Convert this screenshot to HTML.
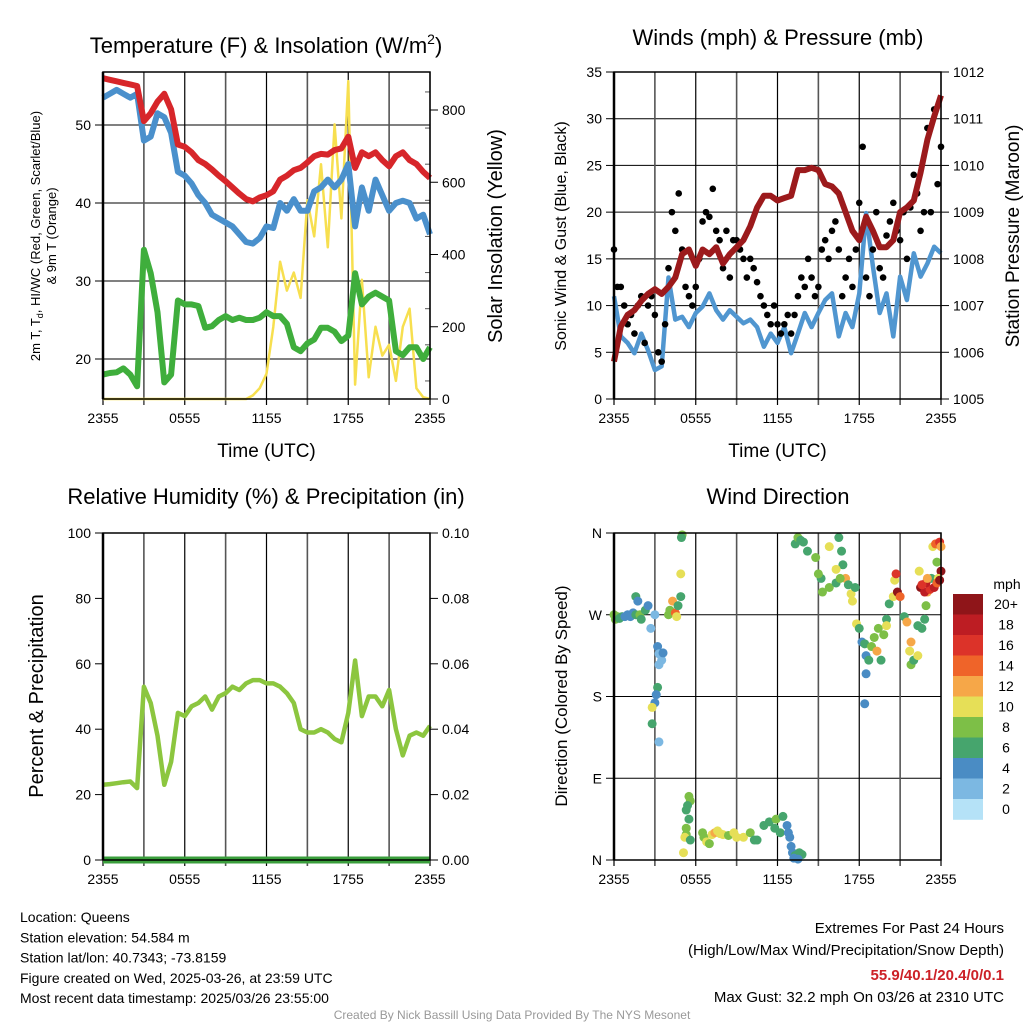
<!DOCTYPE html>
<html><head><meta charset="utf-8"><style>
body{margin:0;background:#fff;}
svg{display:block;font-family:"Liberation Sans",sans-serif;}
</style></head><body>
<svg id="s" width="1024" height="1024" viewBox="0 0 1024 1024"></svg>
<script>
// ---------- DATA (half-hourly, hours 0..24) ----------
const xTickLabels=["2355","0555","1155","1755","2355"];
const tempRed=[56,55.8,55.6,55.4,55.2,55,50.5,51.5,53,54,52,47.5,47.2,46.5,45.5,45,44.3,43.5,42.8,42,41.2,40.5,40.2,40.7,41,41.5,43,43.5,44.2,44.5,45.2,46,46.3,46.2,46.8,47,48.5,44.5,46.5,46,46.5,45.5,44.7,46,46.5,45.5,45,44,43.2];
const hiwcBlue=[53.5,54,54.5,54,53.5,54,48,48.5,51.5,51,49,44,43.5,42.5,41,40,38.5,38,37.5,37,36,35,34.8,35.5,37,36.8,40,39,40.5,39,39,41.5,42,43,42,43,45,37,42,39,43,41,39,40,40.3,40,38,38.5,36];
const dewGreen=[18,18.2,18.3,18.8,18,16.5,34,31,26,17,18,27.5,27,27,26.8,24,24.2,25,25.5,25,25.3,25,25,25.3,26,25.5,25.5,24.5,21.5,21,22,22.5,24,24,23.5,22.3,23,31,27,28,28.5,28,27.5,21,20.5,21.5,21.5,20,21.5];
const insolation=[0,0,0,0,0,0,0,0,0,0,0,0,0,0,0,0,0,0,0,0,0,0,10,30,70,200,380,300,350,280,550,450,650,420,760,500,880,40,330,60,200,120,150,50,200,250,30,5,0];
const windBlue=[11,6.7,6,4.9,7,5.2,3.1,3.5,13,8.5,8.8,7.7,9.2,9.9,11.3,9.5,8.5,9.5,8.8,8.1,8.5,7.7,5.6,7,6,7.7,4.9,7,9.2,7.7,9.2,10.6,11.3,6.7,9.2,7.7,11.3,19.9,14.2,9.2,11.3,6.7,13.1,10.6,15.6,13.1,14.5,16.3,15.6];
const pressure=[1005.8,1006.55,1006.8,1006.9,1007.1,1007.25,1007.35,1007.25,1007.4,1007.6,1008.1,1008.2,1007.85,1008.2,1008.1,1008.25,1007.9,1008.1,1008.25,1008.4,1008.7,1009.1,1009.35,1009.35,1009.25,1009.3,1009.35,1009.9,1009.9,1009.95,1009.9,1009.6,1009.55,1009.4,1009.0,1008.6,1008.4,1008.9,1008.6,1008.25,1008.25,1008.4,1009.0,1009.1,1009.25,1009.85,1010.55,1011.05,1011.5];
// gusts every 15 minutes
const gusts=[16,12,12,10,8,9,7,10,11,6,10,11,9,5,4,8,14,20,18,22,16,12,11,10,12,15,19,20,19.5,22.5,18,17,14,18,13,17,17,16,15,13,15,14,12.5,11,10,9,8,10,8,7,8,9,7,9,11,13,12,15,13,11,12,16,17,15,18,19,16,11,13,15,12,16,21,27,13,11,16,20,14,13,17.5,19,21,18,17,20,15,20.5,24,22,18,20,29,20,31,23,27];
const rh=[23,23.2,23.5,23.8,24,22,53,48,38,23,30,45,44,47,48,50,46,50,51,53,52,54,55,55,54,54,53,51,48,40,39,39,40,39,37,36,45,61,44,50,50,47,52,40,32,38,39,38,41];
const dirHours=[0,0.1,0.25,0.4,0.6,0.8,1,1.2,1.4,1.6,1.6,1.75,1.9,2,2.3,2.5,2.7,3.0,3.2,3.3,3.3,3.5,3.6,3.2,3.1,3.0,2.8,2.8,3.3,4.0,4.1,4.3,4.5,4.6,4.7,4.9,4.9,5.0,4.95,5.5,5.6,5.4,5.3,5.5,5.3,5.3,5.2,5.6,5.1,6.5,6.6,6.8,7.0,7.2,7.4,7.6,7.8,8.0,8.4,8.8,9.0,9.5,10,10.3,10.5,11.0,11.4,11.8,11.9,12.2,12.4,12.7,12.8,12.9,13.0,13.1,13.3,13.6,13.8,13.2,13.5,13.3,13.5,13.7,13.9,14.2,14.8,15.2,15.0,15.3,15.8,16.3,15.8,16.5,16.7,16.8,17.0,17.2,17.4,17.5,17.7,16.3,16.6,17.8,18.0,18.2,18.4,18.5,18.7,18.9,19.1,19.4,19.3,18.5,18.4,19.6,19.8,20.0,20.2,20.0,20.5,20.6,20.7,20.8,21.0,21.3,21.5,21.8,21.7,21.8,22.0,22.3,22.6,22.8,22.3,22.9,23.0,23.3,23.7,23.4,23.6,23.9,24.0,24.0,23.8,22.5,22.8,23.2,23.5,23.7,23.9,22.9,22.6,23.0,22.4];
const dirDegrees=[270,265,268,266,268,268,270,268,272,270,290,285,270,265,275,280,255,270,235,227,215,220,228,190,182,173,168,150,130,270,275,285,272,268,280,290,315,358,355,70,65,60,55,45,35,28,25,22,8,30,25,20,18,28,30,32,29,28,27,30,25,25,30,22,22,38,42,35,45,30,48,38,30,25,15,8,5,8,6,2,1,348,355,352,350,340,333,310,315,295,300,305,345,355,340,325,310,303,293,285,300,320,310,260,255,240,238,225,220,235,245,255,230,205,172,220,248,265,282,258,290,308,315,295,290,268,262,240,230,215,220,225,255,265,258,280,295,310,328,345,348,350,345,318,310,300,295,298,300,305,308,305,303,310,318];
const dirSpeeds=[9,8,8,6,6,4,4,4,4,6,6,4,8,6,6,4,2,2,4,2,2,2,4,6,4,4,10,6,2,8,8,12,14,10,6,6,10,8,6,8,8,6,6,6,8,8,10,6,10,8,8,10,8,10,12,10,10,10,8,10,10,10,8,6,6,6,6,6,8,6,6,4,4,4,4,4,6,6,6,4,4,6,8,6,6,6,8,6,8,8,8,6,10,6,6,6,12,6,10,10,6,10,8,10,6,4,6,4,6,8,8,8,12,4,4,6,8,6,6,10,10,10,16,20,14,6,12,12,10,8,6,10,6,6,6,8,12,6,8,10,14,16,12,20,10,20,18,16,18,14,20,18,16,12,10];
const speedBins=["0","2","4","6","8","10","12","14","16","18","20+"];
const binColors=["#b5e2f7","#7cb8e2","#4a8cc4","#46a56d","#7dbf47","#e6df57","#f6a748","#ef6429","#dc3329","#bd1d23","#8f1519"];

// ---------- helpers ----------
const NS="http://www.w3.org/2000/svg";
const svg=document.getElementById('s');
function el(tag,attrs,parent,text){const e=document.createElementNS(NS,tag);for(const k in attrs)e.setAttribute(k,attrs[k]);if(text!==undefined)e.textContent=text;(parent||svg).appendChild(e);return e;}
function grp(name,parent){const g=el('g',{},parent);return g;}
const halfHours=tempRed.map((_,i)=>i*0.5);
function makePanel(x0,y0,w,h){return {x0,y0,w,h,sx:t=>x0+t/24*w};}
function lin(d0,d1,p0,p1){return v=>p0+(v-d0)/(d1-d0)*(p1-p0);}
function pathFrom(xs,ys,sx,sy){return xs.map((x,i)=>(i?'L':'M')+sx(x).toFixed(1)+','+sy(ys[i]).toFixed(1)).join('');}
function xAxis(P,g,showTitle){
  for(let k=0;k<=8;k++){const x=P.sx(k*3);el('line',{x1:x,y1:P.y0,x2:x,y2:P.y0+P.h+6,stroke:k%2?'#555':'#000','stroke-width':k%2?1.6:1.2},g);}
  xTickLabels.forEach((l,i)=>{const t=el('text',{x:P.sx(i*6),y:P.y0+P.h+24,'font-size':14,'text-anchor':'middle'},g,l);});
  if(showTitle){const t=el('text',{x:P.x0+P.w/2,y:P.y0+P.h+58,'font-size':19,'text-anchor':'middle'},g,'Time (UTC)');}
}
function frame(P,g){el('rect',{x:P.x0,y:P.y0,width:P.w,height:P.h,fill:'none',stroke:'#000','stroke-width':1.5},g);el('line',{x1:P.x0,y1:P.y0,x2:P.x0,y2:P.y0+P.h,stroke:'#000','stroke-width':2.5},g);}
function yTicks(P,g,vals,sy,labels,side,grid){
  vals.forEach((v,i)=>{const y=sy(v);
    if(grid)el('line',{x1:P.x0,y1:y,x2:P.x0+P.w,y2:y,stroke:'#000','stroke-width':1},g);
    if(side==='l'){el('line',{x1:P.x0-8,y1:y,x2:P.x0,y2:y,stroke:'#000'},g);const t=el('text',{x:P.x0-12,y:y+5,'font-size':14,'text-anchor':'end'},g,labels[i]);}
    else{el('line',{x1:P.x0+P.w,y1:y,x2:P.x0+P.w+8,y2:y,stroke:'#000'},g);const t=el('text',{x:P.x0+P.w+12,y:y+5,'font-size':14},g,labels[i]);}
  });
}
function title(txt,x,y,name){const t=el('text',{x,y,'font-size':22,'text-anchor':'middle'},svg,txt);return t;}
function vlabel(txt,x,y,size,name){const t=el('text',{x,y,'font-size':size,'text-anchor':'middle',transform:`rotate(-90 ${x} ${y})`},svg,txt);return t;}

// ---------- Panel 1: temperature ----------
{const P=makePanel(103,72,327,327);const g=grp('temperature-panel');
 const sy=lin(20,50,359,125), sy2=lin(0,800,399,110);
 yTicks(P,g,[20,30,40,50],sy,["20","30","40","50"],'l',true);
 yTicks(P,g,[0,200,400,600,800],sy2,["0","200","400","600","800"],'r',false);
 for(let v=50;v<=900;v+=100){const y=sy2(v);el('line',{x1:P.x0+P.w-5,y1:y,x2:P.x0+P.w,y2:y,stroke:'#555'},g);}
 xAxis(P,g,true);
 const series=[[insolation,sy2,'#f7df4f',2.5,'insolation-line'],[dewGreen,sy,'#3fae3c',6,'dewpoint-line'],[hiwcBlue,sy,'#4a90cc',6,'heat-index-windchill-line'],[tempRed,sy,'#d7262a',6,'temperature-line']];
 series.forEach(s=>{const p=el('path',{d:pathFrom(halfHours,s[0],P.sx,s[1]),fill:'none',stroke:s[2],'stroke-width':s[3],'stroke-linejoin':'round'},g);});
 frame(P,g);
 const t=el('text',{x:266,y:53,'font-size':22,'text-anchor':'middle'},svg);
 t.innerHTML='Temperature (F) &amp; Insolation (W/m<tspan font-size="14" dy="-9">2</tspan><tspan dy="9">)</tspan>';
 const l=el('text',{x:40,y:236,'font-size':13,'text-anchor':'middle',transform:'rotate(-90 40 236)'},svg);
 l.innerHTML='2m T, T<tspan font-size="9" dy="3">d</tspan><tspan dy="-3">, HI/WC (Red, Green, Scarlet/Blue)</tspan>';
 vlabel('& 9m T (Orange)',56,236,13,'temperature-y-axis-subtitle');
 vlabel('Solar Insolation (Yellow)',502,236,20,'insolation-axis-title');
}
// ---------- Panel 2: winds ----------
{const P=makePanel(614,72,327,327);const g=grp('winds-panel');
 const sy=lin(0,35,399,72), sy2=lin(1005,1012,399,72);
 yTicks(P,g,[0,5,10,15,20,25,30,35],sy,["0","5","10","15","20","25","30","35"],'l',true);
 yTicks(P,g,[1005,1006,1007,1008,1009,1010,1011,1012],sy2,["1005","1006","1007","1008","1009","1010","1011","1012"],'r',false);
 xAxis(P,g,true);
 const wb=el('path',{d:pathFrom(halfHours,windBlue,P.sx,sy),fill:'none',stroke:'#5096d0','stroke-width':4.5,'stroke-linejoin':'round'},g);
 gusts.forEach((v,i)=>{const c=el('circle',{cx:P.sx(i*0.25),cy:sy(v),r:3.3,fill:'#000'},g);});
 const pr=el('path',{d:pathFrom(halfHours,pressure,P.sx,sy2),fill:'none',stroke:'#9c1a1c','stroke-width':6,'stroke-linejoin':'round'},g);
 frame(P,g);
 title('Winds (mph) & Pressure (mb)',778,45,'winds-title');
 vlabel('Sonic Wind & Gust (Blue, Black)',566,236,16,'wind-y-axis-title');
 vlabel('Station Pressure (Maroon)',1019,236,19,'pressure-axis-title');
}
// ---------- Panel 3: RH ----------
{const P=makePanel(103,533,327,327);const g=grp('humidity-panel');
 const sy=lin(0,100,860,533), sy2=lin(0,0.1,860,533);
 yTicks(P,g,[0,20,40,60,80,100],sy,["0","20","40","60","80","100"],'l',false);
 yTicks(P,g,[0,0.02,0.04,0.06,0.08,0.1],sy2,["0.00","0.02","0.04","0.06","0.08","0.10"],'r',false);
 xAxis(P,g,false);
 const p=el('path',{d:pathFrom(halfHours,rh,P.sx,sy),fill:'none',stroke:'#8cc63f','stroke-width':4.5,'stroke-linejoin':'round'},g);
 const pc=el('line',{x1:P.x0,y1:sy2(0),x2:P.x0+P.w,y2:sy2(0),stroke:'#3a9e3c','stroke-width':7},g);
 frame(P,g);
 title('Relative Humidity (%) & Precipitation (in)',266,504,'humidity-title');
 vlabel('Percent & Precipitation',43,696,20,'humidity-y-axis-title');
}
// ---------- Panel 4: wind direction ----------
{const P=makePanel(614,533,327,327);const g=grp('wind-direction-panel');
 const sy=lin(0,360,860,533);
 yTicks(P,g,[0,90,180,270,360],sy,["N","E","S","W","N"],'l',true);
 xAxis(P,g,false);
 dirHours.forEach((h,i)=>{const b=Math.min(10,Math.floor(dirSpeeds[i]/2));const c=el('circle',{cx:P.sx(h),cy:sy(dirDegrees[i]),r:4.5,fill:binColors[b]},g);});
 frame(P,g);
 title('Wind Direction',778,504,'wind-direction-title');
 vlabel('Direction (Colored By Speed)',567,696,17,'direction-y-axis-title');
 const lg=grp('speed-colorbar');
 const mt=el('text',{x:1007,y:589,'font-size':14,'text-anchor':'middle'},lg,'mph');
 for(let i=0;i<11;i++){const idx=10-i;const y=594+i*20.5;
  const r=el('rect',{x:953,y:y,width:30,height:20.8,fill:binColors[idx]},lg);
  const t=el('text',{x:1006,y:y+15,'font-size':14,'text-anchor':'middle'},lg,speedBins[idx]);}
}
// ---------- footer ----------
const leftLines=["Location: Queens","Station elevation: 54.584 m","Station lat/lon: 40.7343; -73.8159","Figure created on Wed, 2025-03-26, at 23:59 UTC","Most recent data timestamp: 2025/03/26 23:55:00"];
leftLines.forEach((s,i)=>{const t=el('text',{x:20,y:922+i*20.3,'font-size':14},svg,s);});
[["Extremes For Past 24 Hours",933,'#000','normal'],["(High/Low/Max Wind/Precipitation/Snow Depth)",955,'#000','normal'],["55.9/40.1/20.4/0/0.1",980,'#cc2127','bold'],["Max Gust: 32.2 mph On 03/26 at 2310 UTC",1002,'#000','normal']].forEach(r=>{const t=el('text',{x:1004,y:r[1],'font-size':15,'text-anchor':'end',fill:r[2],'font-weight':r[3]},svg,r[0]);});
const cr=el('text',{x:512,y:1019,'font-size':12,'text-anchor':'middle',fill:'#999'},svg,'Created By Nick Bassill Using Data Provided By The NYS Mesonet');


</script>
</body></html>
